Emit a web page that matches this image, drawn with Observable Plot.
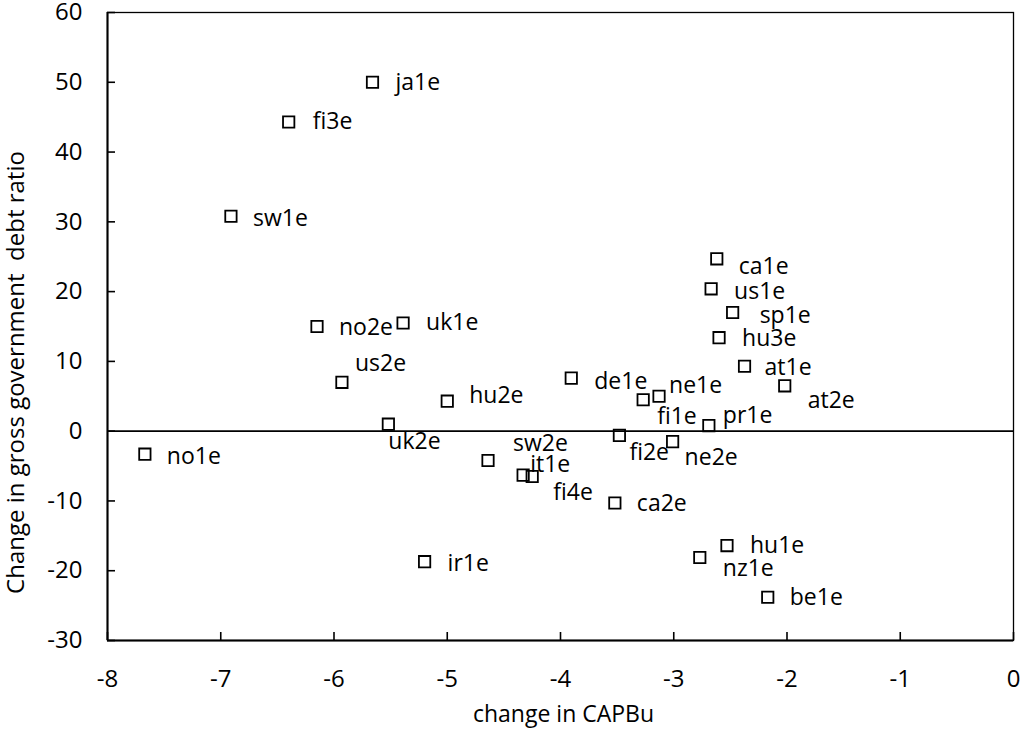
<!DOCTYPE html>
<html>
<head>
<meta charset="utf-8">
<script src="https://cdn.jsdelivr.net/npm/d3@7"></script>
<script src="https://cdn.jsdelivr.net/npm/@observablehq/plot@0.6"></script>
<style>
  html, body { margin: 0; padding: 0; background: #fff; }
</style>
</head>
<body>
<div id="chart"></div>
<script>
// ---- data ----
const labels = ["ja1e","fi3e","sw1e","no2e","uk1e","us2e","hu2e","uk2e","no1e","sw2e","ir1e",
                "ca1e","us1e","sp1e","hu3e","at1e","at2e","de1e","fi1e","ne1e","pr1e","fi2e",
                "ne2e","it1e","fi4e","ca2e","hu1e","nz1e","be1e"];
const capbuChange = [-5.66,-6.40,-6.91,-6.15,-5.39,-5.93,-5.00,-5.52,-7.67,-4.64,-5.20,
                     -2.62,-2.67,-2.48,-2.60,-2.375,-2.02,-3.905,-3.27,-3.13,-2.69,-3.48,
                     -3.01,-4.33,-4.25,-3.52,-2.53,-2.77,-2.17];
const debtChange = [50.0,44.3,30.8,15.0,15.5,7.0,4.3,1.0,-3.3,-4.2,-18.7,
                    24.7,20.4,17.0,13.4,9.3,6.5,7.6,4.5,5.0,0.8,-0.6,
                    -1.5,-6.3,-6.5,-10.3,-16.4,-18.1,-23.8];
const xTicks = [-8,-7,-6,-5,-4,-3,-2,-1,0];
const yTicks = [-30,-20,-10,0,10,20,30,40,50,60];
const xTitle = "change in CAPBu";
const yTitle = "Change in gross government \u00a0debt ratio";

// label placement (pixel offsets from each marker, as in the reference)
const labelDx = [23,24,22,22,23,13,22,0,22,25,23,22,23,27,23,20,23,23,14,10,14,10,12,7,21,22,23,23,22];
const labelDy = [0,0,2,1,0,-19,-6,17,2,-17,2,8,3,3,1,1,15,3,17,-11,-10,17,16,-11,16,1,0,11,0];

const points = labels.map((name, i) => ({name, x: capbuChange[i], y: debtChange[i]}));

const labelMarks = points.map((p, i) => Plot.text([p], {
  x: "x", y: "y", text: "name", textAnchor: "start", lineAnchor: "middle",
  dx: labelDx[i], dy: labelDy[i], fill: "black", fontSize: 23
}));

const chart = Plot.plot({
  width: 1032,
  height: 729,
  marginLeft: 107,
  marginRight: 19,
  marginTop: 12,
  marginBottom: 89,
  style: {fontFamily: "'Open Sans', sans-serif", fontSize: "23px", color: "black", background: "white"},
  x: {domain: [-8, 0]},
  y: {domain: [-30, 60]},
  marks: [
    Plot.frame({stroke: "black", strokeWidth: 1.3}),
    Plot.ruleY([0], {stroke: "black", strokeWidth: 1.6}),
    Plot.ruleY([-30], {stroke: "black", strokeWidth: 2}),
    Plot.ruleX([-8], {stroke: "black", strokeWidth: 2}),
    // inward tick marks
    Plot.ruleX(xTicks, {x: d => d, y1: -30, y2: -30, insetTop: -8, stroke: "black", strokeWidth: 1.6}),
    Plot.ruleY(yTicks, {y: d => d, x1: -8, x2: -8, insetRight: -8, stroke: "black", strokeWidth: 1.6}),
    Plot.axisX({ticks: xTicks, tickSize: 0, tickPadding: 29, tickFormat: d => String(d), label: null, fontSize: 24}),
    Plot.axisY({ticks: yTicks, tickSize: 0, tickPadding: 25, tickFormat: d => String(d), label: null, fontSize: 24}),
    Plot.dot(points, {x: "x", y: "y", symbol: "square", r: 6.4, stroke: "black", strokeWidth: 1.8, fill: "none"}),
    ...labelMarks,
    Plot.text([xTitle], {frameAnchor: "bottom", textAnchor: "middle", lineAnchor: "middle",
                         text: d => d, dx: 3, dy: 74, fontSize: 23, fill: "black"}),
    Plot.text([yTitle], {frameAnchor: "left", textAnchor: "middle", lineAnchor: "middle",
                         text: d => d, rotate: -90, dx: -91, dy: 46, fontSize: 24, fill: "black"})
  ]
});

document.getElementById("chart").appendChild(chart);
</script>
</body>
</html>
